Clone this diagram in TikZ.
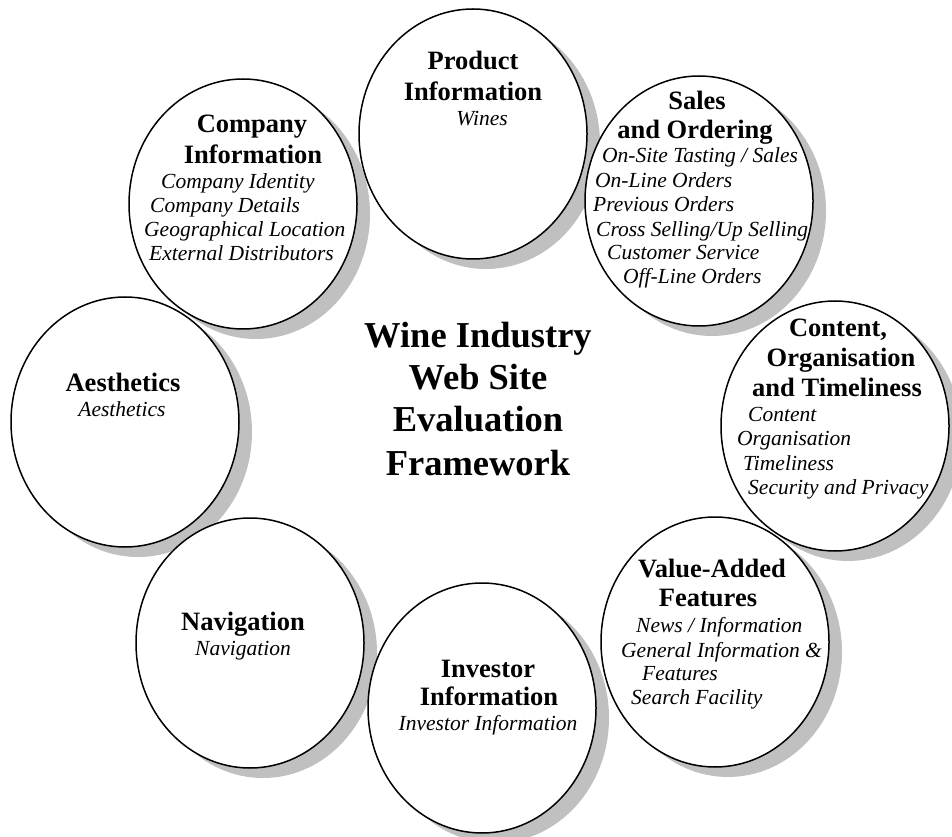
\documentclass[tikz,border=0pt]{standalone}
\usepackage{fontspec}
\setmainfont{Liberation Serif}
\usetikzlibrary{shapes.geometric}
\begin{document}
\pgfdeclarelayer{shadowlayer}
\pgfdeclarelayer{filllayer}
\pgfsetlayers{shadowlayer,filllayer,main}
\definecolor{shadowgray}{HTML}{C0C0C0}
\begin{tikzpicture}[x=1pt,y=1pt,
  bubble/.style={ellipse, draw=black, line width=1.5pt, minimum width=228pt,
                 minimum height=250pt, inner sep=0pt},
  hd/.style={font=\fontsize{26.5}{30}\selectfont\bfseries, anchor=base, inner sep=0pt},
  itc/.style={font=\fontsize{21.5}{24}\selectfont\itshape, anchor=base, inner sep=0pt},
  itl/.style={font=\fontsize{21.5}{24}\selectfont\itshape, anchor=base west, inner sep=0pt},
  ttl/.style={font=\fontsize{36.5}{42}\selectfont\bfseries, anchor=base, inner sep=0pt}]
\useasboundingbox (0,0) rectangle (952,836);

% the eight topic bubbles
\node[bubble] (prod) at (473,702) {};
\node[bubble] (sales) at (699,635) {};
\node[bubble] (comp) at (243,632) {};
\node[bubble] (aest) at (125,414) {};
\node[bubble] (nav) at (250,193) {};
\node[bubble] (inv) at (482,128) {};
\node[bubble] (cont) at (835,410) {};
\node[bubble] (val) at (715,194) {};

% white fills under all outlines, grey drop shadows under all fills
\begin{pgfonlayer}{filllayer}
  \foreach \n in {prod,sales,comp,aest,nav,inv,cont,val}
    \fill[white] (\n.center) ellipse [x radius=114, y radius=125];
\end{pgfonlayer}
\begin{pgfonlayer}{shadowlayer}
  \fill[white] (0,0) rectangle (952,836);
  \foreach \n in {prod,sales,comp,aest,nav,inv,cont,val}
    \fill[shadowgray] ([shift={(13,-10)}]\n.center) ellipse [x radius=114, y radius=125];
\end{pgfonlayer}

% centre title
\node[ttl] (t1) at (478,488) {Wine Industry};
\node[ttl] (t2) at (478,446) {Web Site};
\node[ttl] (t3) at (478,404) {Evaluation};
\node[ttl] (t4) at (478,361) {Framework};

% Product Information
\node[hd] (prod-h1) at (473,766) {Product};
\node[hd] (prod-h2) at (473,735) {Information};
\node[itc] (prod-i1) at (482,710) {Wines};

% Sales and Ordering
\node[hd] (sales-h1) at (697,726) {Sales};
\node[hd] (sales-h2) at (695,697) {and Ordering};
\node[itl] (sales-i1) at (602,673) {On-Site Tasting / Sales};
\node[itl] (sales-i2) at (595,648) {On-Line Orders};
\node[itl] (sales-i3) at (593,624) {Previous Orders};
\node[itl] (sales-i4) at (596,599) {Cross Selling/Up Selling};
\node[itl] (sales-i5) at (607,576) {Customer Service};
\node[itl] (sales-i6) at (623,552) {Off-Line Orders};

% Company Information
\node[hd] (comp-h1) at (252,703) {Company};
\node[hd] (comp-h2) at (253,672) {Information};
\node[itl] (comp-i1) at (161,647) {Company Identity};
\node[itl] (comp-i2) at (150,623) {Company Details};
\node[itl] (comp-i3) at (144,599) {Geographical Location};
\node[itl] (comp-i4) at (149,575) {External Distributors};

% Aesthetics
\node[hd] (aest-h1) at (123,444) {Aesthetics};
\node[itc] (aest-i1) at (122,419) {Aesthetics};

% Navigation
\node[hd] (nav-h1) at (243,206) {Navigation};
\node[itc] (nav-i1) at (243,181) {Navigation};

% Investor Information
\node[hd] (inv-h1) at (488,159) {Investor};
\node[hd] (inv-h2) at (489,131) {Information};
\node[itc] (inv-i1) at (488,106) {Investor Information};

% Content, Organisation and Timeliness
\node[hd] (cont-h1) at (838,499) {Content,};
\node[hd] (cont-h2) at (841,469) {Organisation};
\node[hd] (cont-h3) at (837,439) {and Timeliness};
\node[itl] (cont-i1) at (748,414) {Content};
\node[itl] (cont-i2) at (737,390) {Organisation};
\node[itl] (cont-i3) at (743,366) {Timeliness};
\node[itl] (cont-i4) at (748,342) {Security and Privacy};

% Value-Added Features
\node[hd] (val-h1) at (712,259) {Value-Added};
\node[hd] (val-h2) at (708,230) {Features};
\node[itl] (val-i1) at (636,204) {News / Information};
\node[itl] (val-i2) at (621,179) {General Information \&};
\node[itl] (val-i3) at (642,156) {Features};
\node[itl] (val-i4) at (631,132) {Search Facility};
\end{tikzpicture}
\end{document}
